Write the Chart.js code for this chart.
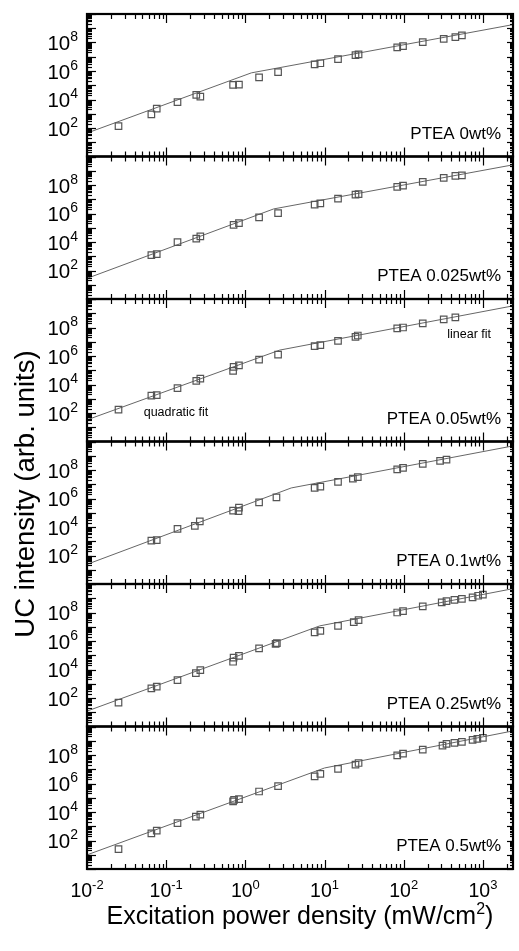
<!DOCTYPE html>
<html>
<head>
<meta charset="utf-8">
<script src="https://cdn.jsdelivr.net/npm/chart.js@4"></script>
<style>
  html, body { margin: 0; padding: 0; background: #fff; }
  #chart { display: block; }
</style>
</head>
<body>
<canvas id="chart" width="519" height="951"></canvas>
<script>
const panelLabels = ['PTEA 0wt%', 'PTEA 0.025wt%', 'PTEA 0.05wt%', 'PTEA 0.1wt%', 'PTEA 0.25wt%', 'PTEA 0.5wt%'];

// measured points: excitation power density (mW/cm2) and UC intensity
const power0 = [0.025, 0.065, 0.076, 0.139, 0.24, 0.27, 0.70, 0.83, 1.49, 2.59, 7.5, 8.85, 14.8, 24.6, 26.9, 82.8, 98, 174, 320, 449, 543];
const uc0 = [1.35e2, 9.1e2, 2.3e3, 6.6e3, 2.1e4, 1.6e4, 1.05e5, 1.12e5, 3.6e5, 8.3e5, 2.9e6, 3.5e6, 6.8e6, 1.29e7, 1.45e7, 4.5e7, 5.6e7, 1.07e8, 1.8e8, 2.4e8, 3.2e8];

const power1 = [0.065, 0.076, 0.139, 0.24, 0.27, 0.71, 0.83, 1.49, 2.59, 7.5, 8.85, 14.8, 24.6, 26.9, 82.8, 98, 174, 320, 449, 543];
const uc1 = [1.2e3, 1.4e3, 9.8e3, 1.7e4, 2.5e4, 1.6e5, 2.1e5, 5.4e5, 1.07e6, 4.2e6, 5.1e6, 1.1e7, 2.1e7, 2.3e7, 7.4e7, 9.1e7, 1.66e8, 3.2e8, 4.4e8, 4.8e8];

const power2 = [0.025, 0.065, 0.076, 0.139, 0.24, 0.27, 0.70, 0.71, 0.83, 1.49, 2.59, 7.5, 8.85, 14.8, 24.6, 26.3, 82.8, 98, 174, 320, 449];
const uc2 = [1.7e2, 1.66e3, 1.8e3, 5.6e3, 1.8e4, 2.6e4, 8.9e4, 1.7e5, 2.2e5, 5.6e5, 1.26e6, 4.9e6, 5.8e6, 1.15e7, 2.2e7, 2.75e7, 8.7e7, 1.0e8, 1.95e8, 3.7e8, 5.1e8];

const power3 = [0.065, 0.076, 0.139, 0.23, 0.266, 0.70, 0.82, 0.83, 1.49, 2.47, 7.5, 8.85, 14.8, 22.8, 26.3, 82.8, 98, 174, 288, 347];
const uc3 = [1.1e3, 1.2e3, 7.4e3, 1.2e4, 2.5e4, 1.4e5, 1.3e5, 2.3e5, 5.4e5, 1.2e6, 5.5e6, 6.8e6, 1.45e7, 2.45e7, 3.2e7, 1.12e8, 1.4e8, 2.7e8, 4.4e8, 5.4e8];

const power4 = [0.025, 0.065, 0.076, 0.139, 0.237, 0.27, 0.70, 0.71, 0.83, 1.49, 2.41, 2.5, 7.5, 8.85, 14.8, 23.4, 26.9, 82.8, 98, 174, 302, 347, 437, 543, 741, 870, 1000];
const uc4 = [47, 4.8e2, 6.3e2, 1.8e3, 5.6e3, 9.1e3, 3.5e4, 6.9e4, 8.9e4, 3.0e5, 6.3e5, 7.1e5, 4.0e6, 5.1e6, 1.15e7, 2.1e7, 2.9e7, 1.0e8, 1.26e8, 2.7e8, 5.1e8, 6.3e8, 7.8e8, 9.1e8, 1.15e9, 1.5e9, 1.8e9];

const power5 = [0.025, 0.065, 0.076, 0.139, 0.237, 0.27, 0.70, 0.72, 0.83, 1.49, 2.59, 7.5, 8.85, 14.8, 24.6, 26.9, 82.8, 98, 174, 309, 347, 437, 543, 741, 851, 1000];
const uc5 = [25, 3.2e2, 5.0e2, 1.66e3, 4.8e3, 6.6e3, 5.5e4, 7.2e4, 8.1e4, 2.75e5, 6.6e5, 3.2e6, 4.7e6, 1.05e7, 2.1e7, 2.75e7, 9.5e7, 1.26e8, 2.4e8, 4.6e8, 6.0e8, 7.1e8, 8.3e8, 1.15e9, 1.35e9, 1.6e9];

// fitted lines (quadratic part, then linear part)
const fitPower0 = [0.01, 1.19, 2400];
const fitUc0 = [44, 7.4e5, 1.8e9];
const fitPower1 = [0.01, 2.28, 2400];
const fitUc1 = [28, 2.1e6, 2.6e9];
const fitPower2 = [0.01, 2.72, 2400];
const fitUc2 = [33, 2.6e6, 3.3e9];
const fitPower3 = [0.01, 3.8, 2400];
const fitUc3 = [24, 5.5e6, 4.9e9];
const fitPower4 = [0.01, 8.7, 2400];
const fitUc4 = [12, 1.15e7, 4.7e9];
const fitPower5 = [0.01, 10, 2400];
const fitUc5 = [9.8, 1.23e7, 4.9e9];

const xTickExps = [-2, -1, 0, 1, 2, 3];
const yTickExps = [2, 4, 6, 8];

const notes = [
  { text: 'quadratic fit', panel: 2, x: 0.052, y: 58 },
  { text: 'linear fit', panel: 2, x: 355, y: 1.8e7 }
];

const powers = [power0, power1, power2, power3, power4, power5];
const ucs = [uc0, uc1, uc2, uc3, uc4, uc5];
const fitPowers = [fitPower0, fitPower1, fitPower2, fitPower3, fitPower4, fitPower5];
const fitUcs = [fitUc0, fitUc1, fitUc2, fitUc3, fitUc4, fitUc5];

const FONT = "'Liberation Sans', Arial, sans-serif";
const markColor = '#555';

const datasets = [];
panelLabels.forEach((label, i) => {
  datasets.push({
    label: label,
    data: powers[i].map((x, j) => ({ x: x, y: ucs[i][j] })),
    yAxisID: 'y' + i,
    showLine: false,
    pointStyle: 'rect',
    pointRadius: 4.6,
    pointBorderWidth: 1.2,
    borderColor: markColor,
    backgroundColor: 'rgba(0,0,0,0)'
  });
  datasets.push({
    label: label + ' fit',
    data: fitPowers[i].map((x, j) => ({ x: x, y: fitUcs[i][j] })),
    yAxisID: 'y' + i,
    showLine: true,
    pointRadius: 0,
    borderWidth: 1,
    borderColor: '#666'
  });
});

const scales = {
  x: {
    type: 'logarithmic', min: 0.01, max: 2400,
    grid: { display: false }, border: { display: false }, ticks: { display: false },
    afterFit: s => { s.height = 82; }
  }
};
panelLabels.forEach((label, i) => {
  scales['y' + i] = {
    type: 'logarithmic', position: 'left', stack: 'panels', stackWeight: 1,
    weight: panelLabels.length - i,
    min: 1, max: 1e10,
    grid: { display: false }, border: { display: false }, ticks: { display: false },
    afterFit: s => { s.width = 87; }
  };
});

function powerText(ctx, exp, x, y, align, size) {
  ctx.font = size + 'px ' + FONT;
  const wb = ctx.measureText('10').width;
  const supSize = Math.round(size * 0.66);
  ctx.font = supSize + 'px ' + FONT;
  const we = ctx.measureText(exp).width;
  const left = align === 'right' ? x - wb - we : x - (wb + we) / 2;
  ctx.textAlign = 'left';
  ctx.textBaseline = 'alphabetic';
  ctx.font = size + 'px ' + FONT;
  ctx.fillText('10', left, y);
  ctx.font = supSize + 'px ' + FONT;
  ctx.fillText(exp, left + wb, y - size * 0.42);
}

function seg(ctx, x1, y1, x2, y2) {
  ctx.beginPath();
  ctx.moveTo(x1, y1);
  ctx.lineTo(x2, y2);
  ctx.stroke();
}

const framePlugin = {
  id: 'frame',
  afterDatasetsDraw(chart) {
    const ctx = chart.ctx;
    const xs = chart.scales.x;
    const area = chart.chartArea;
    ctx.save();
    ctx.strokeStyle = '#000';
    ctx.fillStyle = '#000';

    panelLabels.forEach((label, i) => {
      const ys = chart.scales['y' + i];
      ctx.lineWidth = 1.2;
      // log ticks on left and right
      for (let e = 0; e <= 10; e++) {
        for (let k = 1; k <= 9; k++) {
          const v = k * Math.pow(10, e);
          if (v > ys.max) break;
          const py = Math.round(ys.getPixelForValue(v)) + 0.5;
          seg(ctx, area.left, py, area.left + (k === 1 ? 9 : 5), py);
          seg(ctx, area.right, py, area.right - (k === 1 ? 6 : 3), py);
        }
      }
      // log ticks on top and bottom of each panel
      for (let e = -2; e <= 3; e++) {
        for (let k = 1; k <= 9; k++) {
          const v = k * Math.pow(10, e);
          if (v > xs.max) break;
          const px = Math.round(xs.getPixelForValue(v)) + 0.5;
          const len = k === 1 ? 9 : 5;
          seg(ctx, px, ys.top, px, ys.top + len);
          seg(ctx, px, ys.bottom, px, ys.bottom - len);
        }
      }
      ctx.lineWidth = 2.2;
      ctx.strokeRect(area.left, ys.top, area.right - area.left, ys.bottom - ys.top);

      // y tick labels
      yTickExps.forEach(exp => {
        const py = ys.getPixelForValue(Math.pow(10, exp));
        powerText(ctx, String(exp), area.left - 9, py + 7.5, 'right', 20.5);
      });

      // panel label
      ctx.font = '17px ' + FONT;
      ctx.textAlign = 'right';
      ctx.textBaseline = 'alphabetic';
      ctx.fillText(label, area.right - 12, ys.bottom - 18);
    });

    // fit notes
    ctx.font = '12.5px ' + FONT;
    ctx.textAlign = 'left';
    notes.forEach(n => {
      const ys = chart.scales['y' + n.panel];
      ctx.fillText(n.text, xs.getPixelForValue(n.x), ys.getPixelForValue(n.y));
    });

    // x tick labels
    xTickExps.forEach(exp => {
      const px = xs.getPixelForValue(Math.pow(10, exp));
      powerText(ctx, String(exp), px, area.bottom + 28, 'center', 19.5);
    });

    // x title with superscript
    const tsize = 25;
    ctx.font = tsize + 'px ' + FONT;
    const t1 = 'Excitation power density (mW/cm';
    const w1 = ctx.measureText(t1).width;
    ctx.font = Math.round(tsize * 0.62) + 'px ' + FONT;
    const w2 = ctx.measureText('2').width;
    ctx.font = tsize + 'px ' + FONT;
    const w3 = ctx.measureText(')').width;
    const cx = (area.left + area.right) / 2;
    let left = cx - (w1 + w2 + w3) / 2;
    const base = area.bottom + 55;
    ctx.textAlign = 'left';
    ctx.fillText(t1, left, base);
    ctx.font = Math.round(tsize * 0.62) + 'px ' + FONT;
    ctx.fillText('2', left + w1, base - tsize * 0.42);
    ctx.font = tsize + 'px ' + FONT;
    ctx.fillText(')', left + w1 + w2, base);

    // y title
    ctx.save();
    ctx.translate(26, 494);
    ctx.rotate(-Math.PI / 2);
    ctx.font = '27.5px ' + FONT;
    ctx.textAlign = 'center';
    ctx.textBaseline = 'middle';
    ctx.fillText('UC intensity (arb. units)', 0, 0);
    ctx.restore();

    ctx.restore();
  }
};

new Chart(document.getElementById('chart').getContext('2d'), {
  type: 'scatter',
  data: { datasets: datasets },
  options: {
    responsive: false,
    animation: false,
    events: [],
    layout: { padding: { top: 14, right: 6, left: 0, bottom: 0 } },
    plugins: { legend: { display: false }, tooltip: { enabled: false } },
    scales: scales
  },
  plugins: [framePlugin]
});
</script>
</body>
</html>
